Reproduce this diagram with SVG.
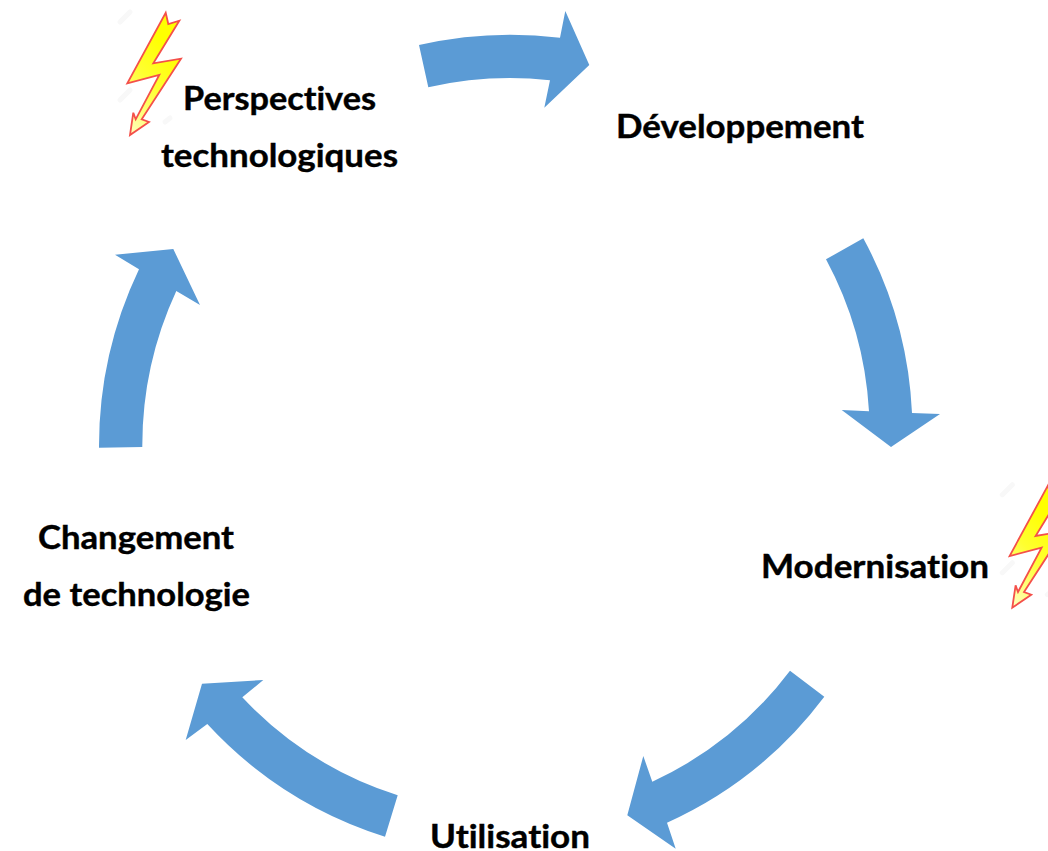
<svg xmlns="http://www.w3.org/2000/svg" width="1048" height="851" viewBox="0 0 1048 851">
<style>
.arrow{fill:#5b9bd5}
.label{font-family:"Lato","Liberation Sans",sans-serif;font-weight:700;font-size:32px;fill:#000;stroke:#000;stroke-width:0.4;font-variant-ligatures:none}
.bolt{fill:url(#boltFill);stroke:#f4504a;stroke-width:1.8;stroke-linejoin:miter}
.wm{stroke:#f8f8f8;stroke-width:5;stroke-linecap:round;fill:none}
</style>
<defs>
<linearGradient id="boltFill" gradientUnits="objectBoundingBox" x1="0.6" y1="0.2" x2="0.2" y2="1">
<stop offset="0" stop-color="#ffff00"/><stop offset="0.45" stop-color="#ffff30"/><stop offset="1" stop-color="#ffffb0"/>
</linearGradient>
<polygon id="bolt" class="bolt" points="165.7,12.7 168.3,24 179.3,20.7 153.3,63.3 181,58.7 141.7,119.3 149,122 130,135 133.3,112.7 135.7,119.3 159.3,75 127.3,83.3"/>
<g id="wm"><path class="wm" d="M120 22L130 12M120 100L130 90M165 122L170 118"/></g>
</defs>
<use href="#wm"/>
<use href="#wm" x="882.3" y="472.7"/>
<g id="connectors">
<path class="arrow" d="M419 45A412 412 0 0 1 560 37.7L565.3 11L589.3 65L544.3 107.7L550 80.3A369 369 0 0 0 428.3 87.3Z"/>
<path class="arrow" d="M863.3 238.3A405 405 0 0 1 912 413L940 414L891 447L841.7 410L869 411.3A365 365 0 0 0 826 259.3Z"/>
<path class="arrow" d="M824.3 696.7A405 405 0 0 1 667 822.7L675.7 848.7L627.3 815.3L643.3 756L652.3 781.7A362 362 0 0 0 790 670.7Z"/>
<path class="arrow" d="M385 836.7A410 410 0 0 1 207.3 724L185.7 740L202 683.7L263.3 680L242.3 697.3A366 366 0 0 0 397.7 795.3Z"/>
<path class="arrow" d="M99 447.7A411 411 0 0 1 139 269.3L115 254.7L173.3 249L200 305L176.3 291A368 368 0 0 0 142.3 447Z"/>
</g>
<g id="node-perspectives">
<use href="#bolt"/>
<text class="label" x="183" y="110" textLength="193" lengthAdjust="spacingAndGlyphs">Perspectives</text>
<text class="label" x="161" y="167" textLength="237" lengthAdjust="spacingAndGlyphs">technologiques</text>
</g>
<g id="node-developpement">
<text class="label" x="616" y="138" textLength="248" lengthAdjust="spacingAndGlyphs">Développement</text>
</g>
<g id="node-modernisation">
<use href="#bolt" x="882.3" y="472.7"/>
<text class="label" x="761" y="578" textLength="228" lengthAdjust="spacingAndGlyphs">Modernisation</text>
</g>
<g id="node-utilisation">
<text class="label" x="430" y="848" textLength="160" lengthAdjust="spacingAndGlyphs">Utilisation</text>
</g>
<g id="node-changement">
<text class="label" x="38" y="549" textLength="196" lengthAdjust="spacingAndGlyphs">Changement</text>
<text class="label" x="23" y="606" textLength="227" lengthAdjust="spacingAndGlyphs">de technologie</text>
</g>
</svg>
